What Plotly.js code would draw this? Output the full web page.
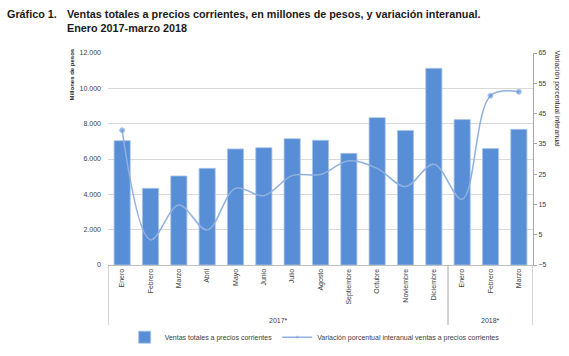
<!DOCTYPE html>
<html>
<head>
<meta charset="utf-8">
<script src="https://cdn.plot.ly/plotly-3.0.1.min.js"></script>
<style>html,body{margin:0;padding:0;background:#fff;}#chart{width:569px;height:356px;}</style>
</head>
<body>
<div id="chart"></div>
<script>
const months = ["Enero","Febrero","Marzo","Abril","Mayo","Junio","Julio","Agosto","Septiembre","Octubre","Noviembre","Diciembre","Enero","Febrero","Marzo"];
const years = ["2017*","2017*","2017*","2017*","2017*","2017*","2017*","2017*","2017*","2017*","2017*","2017*","2018*","2018*","2018*"];
const ventas = [7040, 4340, 5040, 5470, 6570, 6640, 7150, 7060, 6320, 8340, 7620, 11130, 8230, 6590, 7680];
const variacion = [39.5, 3.3, 14.8, 6.6, 20.3, 17.9, 24.5, 24.9, 29.4, 26.9, 20.9, 28.3, 16.7, 50.9, 52.2];
const markedPoints = [0, 13, 14];
const titleLabel = "Gráfico 1.";
const titleText = "Ventas totales a precios corrientes, en millones de pesos, y variación interanual.";
const subtitleText = "Enero 2017-marzo 2018";

const idx = months.map((m, i) => i);
const font = "Liberation Sans, Arial, sans-serif";

const bars = {
  type: "bar",
  x: idx,
  y: ventas,
  name: "Ventas totales a precios corrientes",
  marker: {color: "#588ed5", line: {color: "#a9c4ea", width: 0.8}},
  yaxis: "y"
};
const line = {
  type: "scatter",
  mode: "lines+markers",
  x: idx,
  y: variacion,
  name: "Variación porcentual interanual ventas a precios corrientes",
  line: {color: "#8fb0e0", width: 1.5, shape: "spline", smoothing: 1},
  marker: {color: "#5b8fd6", size: idx.map(i => markedPoints.includes(i) ? 5 : 0)},
  yaxis: "y2"
};

const groups = [];
years.forEach((y, i) => { if (i === 0 || years[i-1] !== y) groups.push({name: y, start: i, end: i}); else groups[groups.length-1].end = i; });
const shapes = [];
const annotations = [];
const divY = -0.283;
groups.forEach((g, k) => {
  if (k === 0) shapes.push({type: "line", xref: "x", yref: "paper", x0: g.start - 0.5, x1: g.start - 0.5, y0: 0, y1: divY, line: {color: "#a6a6a6", width: 1}});
  shapes.push({type: "line", xref: "x", yref: "paper", x0: g.end + 0.5, x1: g.end + 0.5, y0: 0, y1: divY, line: {color: "#a6a6a6", width: 1}});
  annotations.push({xref: "x", yref: "paper", x: (g.start + g.end) / 2, y: -0.264, text: g.name, showarrow: false, font: {family: font, size: 7, color: "#404040"}, yanchor: "middle"});
});
annotations.push({xref: "paper", yref: "paper", x: -0.085, y: 1.03, xanchor: "center", yanchor: "top", text: "<b>Millones de pesos</b>", textangle: -90, showarrow: false, font: {family: font, size: 6, color: "#262626"}});
annotations.push({xref: "paper", yref: "paper", x: 1.057, y: 1.02, xanchor: "center", yanchor: "top", text: "Variación porcentual interanual", textangle: 90, showarrow: false, font: {family: font, size: 7, color: "#262626"}});
annotations.push({xref: "paper", yref: "paper", x: -0.243, y: 1.222, xanchor: "left", yanchor: "top", text: "<b>" + titleLabel + "</b>", showarrow: false, font: {family: font, size: 10.8, color: "#1a1a1a"}, align: "left"});
annotations.push({xref: "paper", yref: "paper", x: -0.101, y: 1.222, xanchor: "left", yanchor: "top", text: "<b>" + titleText + "<br>" + subtitleText + "</b>", showarrow: false, font: {family: font, size: 10.8, color: "#1a1a1a"}, align: "left"});

const layout = {
  width: 569, height: 356,
  margin: {l: 108, r: 36, t: 53, b: 91, pad: 0},
  paper_bgcolor: "#fff", plot_bgcolor: "#fff",
  separators: ",.",
  bargap: 0.43,
  showlegend: true,
  legend: {orientation: "h", xref: "container", yref: "container", x: 0.553, xanchor: "center", y: 0.053, yanchor: "middle", font: {family: font, size: 7, color: "#404040"}, itemwidth: 30, tracegroupgap: 0, bgcolor: "rgba(0,0,0,0)"},
  xaxis: {
    type: "linear", range: [-0.5, 14.5], tickmode: "array", tickvals: idx, ticktext: months, automargin: false,
    tickangle: -90, tickfont: {family: font, size: 7, color: "#404040"}, ticks: "", showgrid: false,
    showline: true, linecolor: "#bfbfbf", linewidth: 1, zeroline: false, fixedrange: true
  },
  yaxis: {
    range: [0, 12000], dtick: 2000, tick0: 0, tickformat: ",d", showgrid: true, gridcolor: "#d9d9d9", gridwidth: 1, automargin: false,
    zeroline: false, showline: false, ticks: "", tickfont: {family: font, size: 7, color: "#404040"}, ticklabelstandoff: 6
  },
  yaxis2: {
    overlaying: "y", side: "right", range: [-5, 65], dtick: 10, tick0: -5, showgrid: false, zeroline: false, automargin: false,
    showline: true, linecolor: "#a6a6a6", linewidth: 1, ticks: "outside", ticklen: 3, tickcolor: "#a6a6a6",
    tickfont: {family: font, size: 7, color: "#404040"}
  },
  shapes: shapes,
  annotations: annotations
};

Plotly.newPlot("chart", [bars, line], layout, {displayModeBar: false, staticPlot: true});
</script>
</body>
</html>
